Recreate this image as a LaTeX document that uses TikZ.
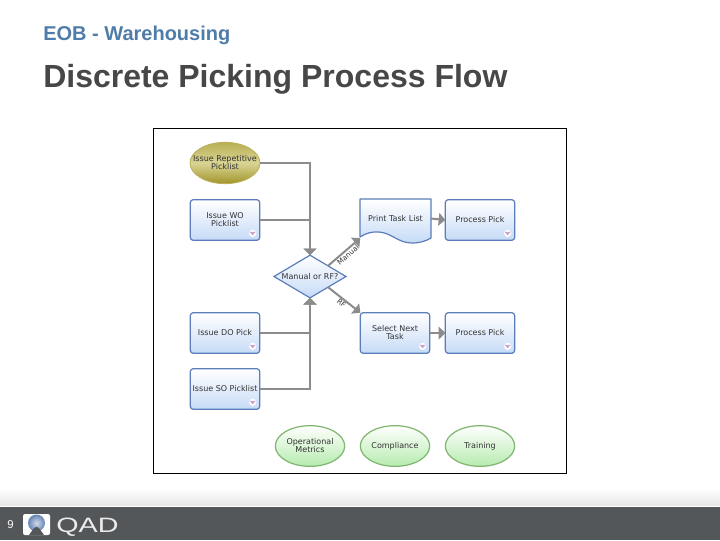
\documentclass[tikz,border=0pt]{standalone}
\usepackage{fontspec}
\usepackage{xcolor}
\usetikzlibrary{positioning, arrows.meta, shapes.geometric}
\setmainfont{Liberation Sans}
\newfontfamily\boxfont{DejaVu Sans}

\definecolor{box_border}{HTML}{5B7DB9}
\definecolor{box_low}{HTML}{C6DBF7}
\definecolor{flow_gray}{HTML}{8C8C8C}
\definecolor{green_border}{HTML}{7FB56F}
\definecolor{green_low}{HTML}{B6EBAE}
\definecolor{olive_top}{HTML}{B9AF55}
\definecolor{olive_mid}{HTML}{D9D494}
\definecolor{olive_low}{HTML}{A2942B}
\definecolor{bar_gray}{HTML}{54575A}
\definecolor{section_blue}{HTML}{4F7CA8}
\definecolor{logo_blue}{HTML}{3F66A3}

\begin{document}
\begin{tikzpicture}[
    x=0.75pt, y=-0.75pt, % 1 unit = 1 pixel of the slide, y going down
    % --- STYLES ---
    base_node/.style={
        font=\boxfont\fontsize{6}{6}\selectfont, % Small label type
        text=black!80,
        align=center,
        inner sep=0pt,
        outer sep=0pt
    },
    task_box/.style={
        base_node, draw=box_border, line width=0.9pt, rounded corners=2.2pt,
        top color=white, bottom color=box_low,
        minimum width=52pt, minimum height=30.5pt
    },
    start_oval/.style={
        base_node, ellipse, draw=olive_top, line width=0.6pt,
        top color=olive_top, bottom color=olive_low, middle color=olive_mid,
        inner sep=-5.4pt, % Label is as wide as the oval here
        minimum width=52.5pt, minimum height=31pt
    },
    kpi_oval/.style={
        base_node, ellipse, draw=green_border, line width=0.9pt,
        top color=white, bottom color=green_low,
        minimum width=52pt, minimum height=30.5pt
    },
    decision_node/.style={
        base_node, diamond, aspect=1.67, draw=box_border, line width=0.9pt,
        top color=white, bottom color=box_low,
        minimum width=54pt, minimum height=32pt
    },
    doc_shape/.style={
        draw=box_border, line width=0.9pt, line join=round,
        top color=white, bottom color=box_low
    },
    flow_arrow/.style={
        draw=flow_gray, line width=1.5pt,
        -{Triangle[length=5pt, width=9.5pt, fill=flow_gray]}
    },
    flow_label/.style={
        font=\boxfont\fontsize{5.4}{5.4}\selectfont, text=black!80, inner sep=0.5pt
    },
    menu_mark/.style={fill=black!20!violet!35!white, draw=none}
]

% --- SLIDE HEADER AND FOOTER ---
\useasboundingbox (0,0) rectangle (720,540);
\fill[white] (0,0) rectangle (720,540);
\shade[top color=white, bottom color=black!9] (0,488) rectangle (720,505);
\fill[bar_gray] (0,507) rectangle (720,540);

\node[anchor=base west, inner sep=0pt, text=section_blue, font=\bfseries\fontsize{15}{18}\selectfont] (section_title) at (43,40) {EOB - Warehousing};
\node[anchor=base west, inner sep=0pt, text=black!72, font=\bfseries\fontsize{24}{26}\selectfont] (page_title) at (43,87.5) {Discrete Picking Process Flow};
\node[anchor=base west, inner sep=0pt, text=white, font=\fontsize{8.5}{10}\selectfont] (page_number) at (7,528) {9};

% Logo: white tile with a ball above a notch
\fill[white, rounded corners=1.5pt] (23,514) rectangle (50,535);
\shade[inner color=logo_blue!25!white, outer color=logo_blue!80!white] (36.5,523) circle (8.5);
\fill[bar_gray] (29,535) .. controls (32,531) and (34,527) .. (36.5,527) .. controls (39,527) and (41,531) .. (44,535) -- cycle;
\node[anchor=base west, inner sep=0pt, text=white!92!black, xscale=1.38, font=\fontsize{15.6}{18}\selectfont] (logo_text) at (56,532) {QAD};

% --- DIAGRAM FRAME ---
\draw[black, line width=0.75pt, fill=white] (153,128) rectangle (566,473);

% --- LEFT COLUMN ---
\node[start_oval] (issue_rep) at (225,163) {Issue Repetitive\\Picklist};
\node[task_box] (issue_wo) at (225,220) {Issue WO\\Picklist};
\node[task_box] (issue_do) at (225,333) {Issue DO Pick};
\node[task_box] (issue_so) at (225,389) {Issue SO Picklist};

% --- DECISION ---
\node[decision_node] (decision) at (310,276.5) {Manual or RF?};

% --- RIGHT COLUMN ---
% The wave-bottomed page goes under its own node
\path[doc_shape] (360,199) -- (431,199) -- (431,238)
    .. controls (426,241) and (420,243) .. (412,243)
    .. controls (398,243) and (392,233) .. (379,232)
    .. controls (372,231.5) and (366,233) .. (360,237) -- cycle;
\node[base_node, minimum width=53pt, minimum height=29.5pt] (print_list) at (395.5,218.5) {Print Task List};
\node[task_box] (pick_one) at (480,220) {Process Pick};
\node[task_box] (next_task) at (395,333) {Select Next\\Task};
\node[task_box] (pick_two) at (480,333) {Process Pick};

% --- BOTTOM OVALS ---
\node[kpi_oval] (metrics) at (310,446) {Operational\\Metrics};
\node[kpi_oval, right=11.75pt of metrics] (compliance) {Compliance};
\node[kpi_oval, right=11.75pt of compliance] (training) {Training};

% --- ARROWS ---
\draw[flow_arrow] (issue_rep.east) -| (decision.north);
\draw[flow_arrow] (issue_wo.east) -| (decision.north);
\draw[flow_arrow] (issue_do.east) -| (decision.south);
\draw[flow_arrow] (issue_so.east) -| (decision.south);
\draw[flow_arrow] (decision.north east) -- node[flow_label, sloped, below, pos=0.53] (manual_label) {Manual} (print_list.south west);
\draw[flow_arrow] (decision.south east) -- node[flow_label, sloped, below, pos=0.5] (rf_label) {RF} (next_task.north west);
\draw[flow_arrow] (print_list.east) -- (pick_one.west);
\draw[flow_arrow] (next_task.east) -- (pick_two.west);

% --- MENU MARKS ---
\foreach \boxname in {issue_wo, issue_do, issue_so, pick_one, next_task, pick_two} {
    \fill[white] ([shift={(-7,-7)}]\boxname.south east) circle (3.6);
    \fill[menu_mark] ([shift={(-10,-8.5)}]\boxname.south east) -- ([shift={(-4,-8.5)}]\boxname.south east) -- ([shift={(-7,-5)}]\boxname.south east) -- cycle;
}

\end{tikzpicture}
\end{document}
